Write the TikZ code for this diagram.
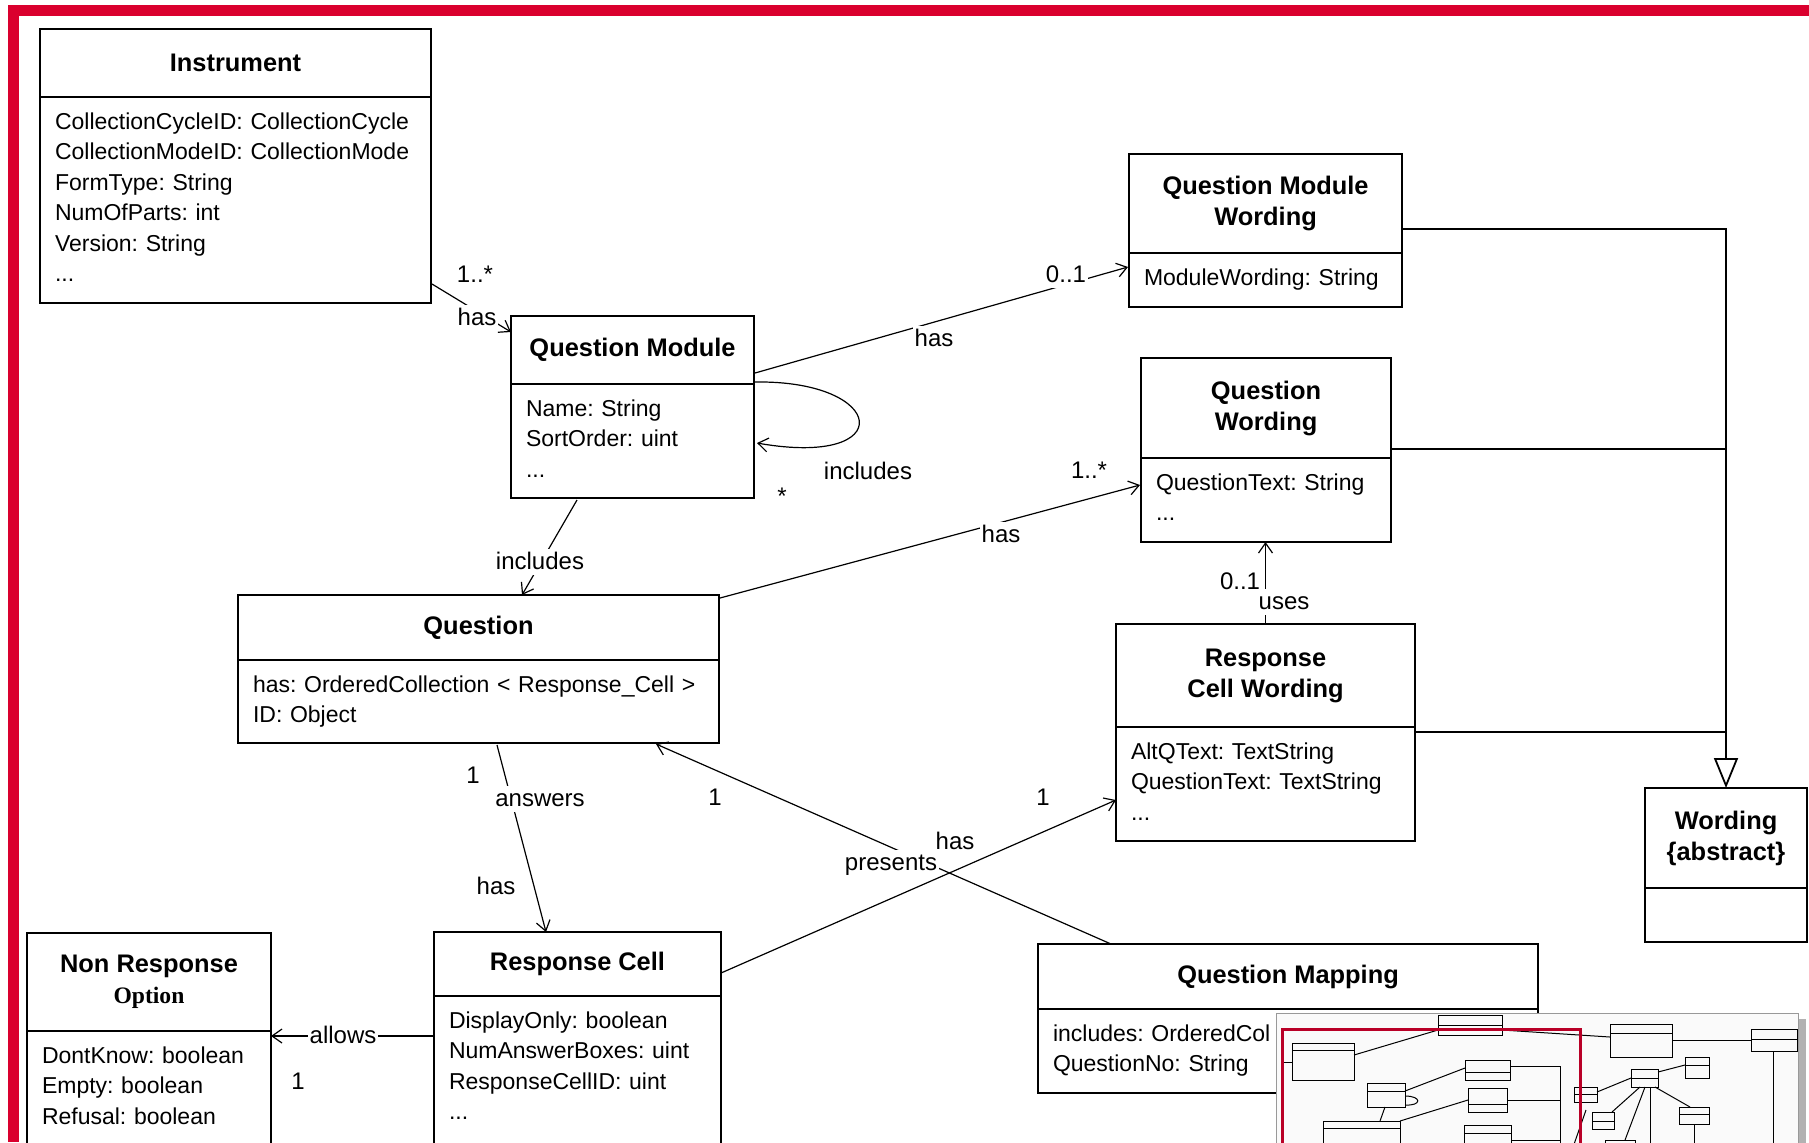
\documentclass[tikz,border=0pt]{standalone}
\usepackage{fontspec}
\setmainfont{Liberation Sans}
\newfontfamily\optfont{Liberation Serif}
\usetikzlibrary{arrows.meta}
\usetikzlibrary{positioning}
\usetikzlibrary{calc}
\definecolor{frameRed}{RGB}{218,0,46}
\frenchspacing

\begin{document}
\begin{tikzpicture}[x=0.5pt,y=-0.5pt]
	\tikzset{clshead/.style = {shape=rectangle,draw,line width=1pt,outer sep=0pt,
			inner sep=0pt,align=center,font=\fontsize{12.7}{15.5}\selectfont\bfseries}}
	\tikzset{clsbody/.style = {shape=rectangle,draw,line width=1pt,outer sep=0pt,
			inner xsep=7.5pt,inner ysep=0pt,align=left,text height=16pt,
			font=\fontsize{11.5}{15.25}\selectfont}}
	\tikzset{assoc/.style = {-{Straight Barb[length=5pt,width=7pt]},line width=0.6pt}}
	\tikzset{inherit/.style = {-{Triangle[open,length=15pt,width=12pt]},line width=0.9pt}}
	\tikzset{lbl/.style = {fill=white,inner sep=1pt,text height=9pt,text depth=2pt,
			font=\fontsize{12}{14}\selectfont}}
	\tikzset{mini/.style = {line width=0.5pt}}
	
	\useasboundingbox (0,0) rectangle (1809,1142);
	
	% frame
	\fill[frameRed] (8,5) rectangle (1809,16);
	\fill[frameRed] (8,5) rectangle (19,1142);
	
	% classes
	\node[clshead,minimum width=195.5pt,minimum height=34pt] (inst) at (235.5,63) {Instrument};
	\node[clsbody,below=0pt of inst,text width=180.5pt,text depth=87pt] (instA)
		{CollectionCycleID: CollectionCycle\\CollectionModeID: CollectionMode\\FormType: String\\NumOfParts: int\\Version: String\\...};
	
	\node[clshead,minimum width=121.5pt,minimum height=34pt] (qm) at (632.5,350) {Question Module};
	\node[clsbody,below=0pt of qm,text width=106.5pt,text depth=41pt] (qmA)
		{Name: String\\SortOrder: uint\\...};
	
	\node[clshead,minimum width=136.5pt,minimum height=49.5pt] (qmw) at (1265.5,203.5) {Question Module\\Wording};
	\node[clsbody,below=0pt of qmw,text width=121.5pt,text depth=11pt] (qmwA)
		{ModuleWording: String};
	
	\node[clshead,minimum width=125pt,minimum height=50pt] (qw) at (1266,408) {Question\\Wording};
	\node[clsbody,below=0pt of qw,text width=110pt,text depth=26pt] (qwA)
		{QuestionText: String\\...};
	
	\node[clshead,minimum width=240.5pt,minimum height=32.5pt] (q) at (478.5,627.5) {Question};
	\node[clsbody,below=0pt of q,text width=225.5pt,text depth=25.5pt] (qA)
		{has: OrderedCollection < Response\_Cell >\\ID: Object};
	
	\node[clshead,minimum width=149.5pt,minimum height=51.5pt] (rcw) at (1265.5,675.5) {Response\\Cell Wording};
	\node[clsbody,below=0pt of rcw,text width=134.5pt,text depth=41pt] (rcwA)
		{AltQText: TextString\\QuestionText: TextString\\...};
	
	\node[clshead,minimum width=143.5pt,minimum height=32pt] (rc) at (577.5,964) {Response Cell};
	\node[clsbody,below=0pt of rc,text width=128.5pt,text depth=70pt] (rcA)
		{DisplayOnly: boolean\\NumAnswerBoxes: uint\\ResponseCellID: uint\\...};
	
	\node[clshead,minimum width=122pt,minimum height=49pt] (nro) at (149,982)
		{Non Response\\{\optfont\fontsize{11.8}{14}\selectfont Option}};
	\node[clsbody,below=0pt of nro,text width=107pt,text depth=60pt] (nroA)
		{DontKnow: boolean\\Empty: boolean\\Refusal: boolean};
	
	\node[clshead,minimum width=250pt,minimum height=32.5pt] (qmap) at (1288,976.5) {Question Mapping};
	\node[clsbody,below=0pt of qmap,text width=235pt,text depth=26pt] (qmapA)
		{includes: OrderedCol\\QuestionNo: String};
	
	\node[clshead,minimum width=81pt,minimum height=50pt] (wording) at (1726,838) {Wording\\\{abstract\}};
	\node[clsbody,below=0pt of wording,text width=66pt,text depth=11pt] (wordingA) {};
	
	% associations
	\draw[assoc] ($(instA.south east)+(1,-19)$) -- ($(qm.north west)+(0,16)$);
	\draw[assoc] ($(qm.south east)+(1,-11)$) -- ($(qmwA.north west)+(-1,14)$);
	\draw[assoc] ($(qm.south east)+(1,-2)$) .. controls +(133,-2) and +(142,25) .. ($(qmA.east)+(3,2)$);
	\draw[assoc] ($(qmA.south west)+(66,2)$) -- ($(q.north west)+(284,0)$);
	\draw[assoc] ($(q.north east)+(1,3)$) -- ($(qwA.north west)+(-1,27)$);
	\draw[assoc] ($(qA.south)+(18.5,2)$) -- ($(rc.north west)+(112,0)$);
	\draw[assoc] ($(qmap.north west)+(73,0)$) -- ($(qA.south east)+(-63,1)$);
	\draw[assoc] ($(rc.east)+(0,9)$) -- ($(rcwA.west)+(0,16)$);
	\draw[assoc] ($(rcA.north west)+(0,40)$) -- ($(nroA.north east)+(0,5)$);
	\draw[assoc] (rcw.north) -- (rcw.north |- qwA.south);
	
	% generalization
	\coordinate (qmwG) at ($(qmw.south east)+(0,-24)$);
	\coordinate (qwG) at ($(qw.south east)+(0,-9)$);
	\coordinate (rcwG) at ($(rcwA.north east)+(0,5)$);
	\draw[inherit] (qmwG) -| (wording.north);
	\draw[line width=0.9pt] (qwG) -- (qwG -| wording.north);
	\draw[line width=0.9pt] (rcwG) -- (rcwG -| wording.north);
	
	% labels
	\node[lbl] (multInst) at (475,275) {1..*};
	\node[lbl] (hasInst) at (477,318) {has};
	\node[lbl] (hasQmw) at (934,339) {has};
	\node[lbl] (multQmw) at (1066,275) {0..1};
	\node[lbl] (inclSelf) at (868,472) {includes};
	\node[lbl] (multSelf) at (782,497) {*};
	\node[lbl] (inclQ) at (540,562) {includes};
	\node[lbl] (hasQw) at (1001,535) {has};
	\node[lbl] (multQw) at (1089,471) {1..*};
	\node[lbl] (multAns) at (473,776) {1};
	\node[lbl] (answers) at (540,799) {answers};
	\node[lbl] (hasRc) at (496,887) {has};
	\node[lbl] (multPres) at (715,798) {1};
	\node[lbl] (hasRcw) at (955,842) {has};
	\node[lbl] (presents) at (891,863) {presents};
	\node[lbl] (multRcw) at (1043,798) {1};
	\node[lbl] (multUses) at (1240,582) {0..1};
	\node[lbl] (uses) at (1284,602) {uses};
	\node[lbl] (allows) at (343,1036) {allows};
	\node[lbl] (multNro) at (298,1082) {1};
	
	% overview thumbnail
	\fill[black!30] (1282,1019) rectangle (1806,1150);
	\filldraw[fill=black!2,draw=black!40,line width=0.4pt] (1276,1013) rectangle (1798,1150);
	\draw[mini] (1292,1043) rectangle (1354,1080) (1292,1050) -- (1354,1050);
	\draw[mini] (1438,1015) rectangle (1502,1035) (1438,1025) -- (1502,1025);
	\draw[mini] (1367,1083) rectangle (1405,1107) (1367,1091) -- (1405,1091);
	\draw[mini] (1465,1060) rectangle (1510,1080) (1465,1072) -- (1510,1072);
	\draw[mini] (1468,1088) rectangle (1507,1112) (1468,1104) -- (1507,1104);
	\draw[mini] (1323,1121) rectangle (1400,1150) (1323,1128) -- (1400,1128);
	\draw[mini] (1464,1125) rectangle (1511,1150) (1464,1133) -- (1511,1133);
	\draw[mini] (1610,1024) rectangle (1672,1057) (1610,1033) -- (1672,1033);
	\draw[mini] (1751,1029) rectangle (1797,1051) (1751,1039) -- (1797,1039);
	\draw[mini] (1631,1069) rectangle (1658,1087) (1631,1078) -- (1658,1078);
	\draw[mini] (1685,1057) rectangle (1709,1078) (1685,1065) -- (1709,1065);
	\draw[mini] (1574,1087) rectangle (1597,1102) (1574,1094) -- (1597,1094);
	\draw[mini] (1592,1112) rectangle (1614,1129) (1592,1121) -- (1614,1121);
	\draw[mini] (1679,1107) rectangle (1709,1124) (1679,1114) -- (1709,1114);
	\draw[mini] (1605,1140) rectangle (1635,1150);
	\draw[mini] (1354,1055) -- (1438,1030);
	\draw[mini] (1405,1091) -- (1465,1068);
	\draw[mini] (1400,1121) -- (1468,1100);
	\draw[mini] (1385,1107) -- (1380,1121);
	\draw[mini] (1405,1096) .. controls (1422,1096) and (1422,1106) .. (1405,1105);
	\draw[mini] (1510,1066) -| (1560,1150);
	\draw[mini] (1507,1100) -- (1560,1100);
	\draw[mini] (1511,1140) -- (1560,1140);
	\draw[mini] (1282,1062) -- (1292,1062);
	\draw[mini] (1502,1030) -- (1610,1037);
	\draw[mini] (1672,1040) -- (1751,1040);
	\draw[mini] (1658,1072) -- (1685,1065);
	\draw[mini] (1597,1092) -- (1631,1078);
	\draw[mini] (1640,1087) -- (1612,1112);
	\draw[mini] (1645,1087) -- (1625,1140);
	\draw[mini] (1650,1087) -- (1650,1150);
	\draw[mini] (1655,1087) -- (1690,1107);
	\draw[mini] (1773,1051) -- (1773,1150);
	\draw[mini] (1694,1124) -- (1694,1150);
	\draw[mini] (1572,1150) -- (1586,1110);
	\draw[frameRed!85!black,line width=1.5pt] (1282,1150) |- (1580,1029) -- (1580,1150);
\end{tikzpicture}
\end{document}
